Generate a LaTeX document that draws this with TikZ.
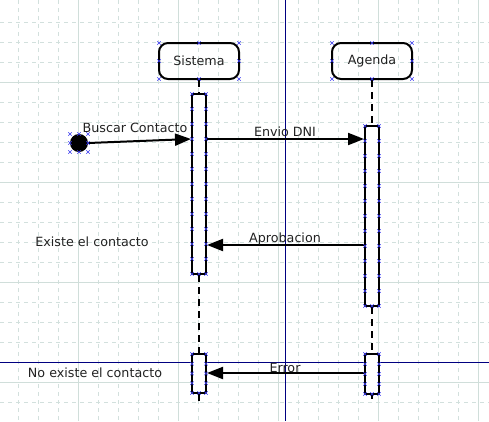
\documentclass[tikz,border=0pt]{standalone}
\usepackage{fontspec}
\setmainfont{DejaVu Sans}
\usetikzlibrary{arrows.meta}
\definecolor{gridminor}{HTML}{D2E0DD}
\definecolor{gridmajor}{HTML}{D0DEDA}
\definecolor{guide}{HTML}{000080}
\definecolor{handle}{HTML}{3A3AF0}
\definecolor{txt}{HTML}{222222}
\begin{document}
\begin{tikzpicture}[x=1pt,y=-1pt,
  lifebox/.style={draw, line width=2pt, rounded corners=9pt, minimum width=80pt, minimum height=36pt, inner sep=0pt, font=\fontsize{12.7}{14}\selectfont, text=txt},
  actbox/.style={draw, line width=2pt, fill=white, minimum width=14pt, inner sep=0pt},
  msg/.style={line width=2pt, -{Triangle[length=16pt,width=12pt]}},
  life/.style={line width=1.3pt, dash pattern=on 7pt off 5pt},
  lbl/.style={font=\fontsize{12.7}{14}\selectfont, text=txt, inner sep=0pt},
  hnd/.style={handle, line width=0.6pt},
  hx/.pic={\draw[hnd] (-1.7,-1.7) -- (1.7,1.7) (-1.7,1.7) -- (1.7,-1.7);}]
\useasboundingbox[fill=white] (0,0) rectangle (489,421);
% grid
\foreach \gx in {18,38,...,478} {\draw[gridminor, line width=1pt, dash pattern=on 4pt off 4pt] (\gx,0) -- (\gx,421);}
\foreach \gy in {22,42,...,402} {\draw[gridminor, line width=1pt, dash pattern=on 4pt off 4pt] (0,\gy) -- (489,\gy);}
\foreach \gx in {78,178,278,378,478} {\draw[gridmajor, line width=1pt] (\gx,0) -- (\gx,421);}
\foreach \gy in {82,182,282,382} {\draw[gridmajor, line width=1pt] (0,\gy) -- (489,\gy);}
% guides
\draw[guide, line width=1pt] (285,0) -- (285,421);
\draw[guide, line width=1pt] (0,362) -- (489,362);
% lifeline heads
\node[lifebox] (sis) at (199,61) {Sistema};
\node[lifebox] (age) at (372,61) {Agenda};
% activations
\node[actbox, minimum height=180pt] (sa1) at (199,184) {};
\node[actbox, minimum height=39pt] (sa2) at (199,373.5) {};
\node[actbox, minimum height=180pt] (aa1) at (372,216) {};
\node[actbox, minimum height=40pt] (aa2) at (372,374) {};
\coordinate (send) at (199,401);
\coordinate (aend) at (372,399);
% lifelines
\draw[life] (sis.south) -- (sa1.north);
\draw[life] (sa1.south) -- (sa2.north);
\draw[life] (sa2.south) -- (send);
\draw[life] (age.south) -- (aa1.north);
\draw[life] (aa1.south) -- (aa2.north);
\draw[life] (aa2.south) -- (aend);
% initial node
\node[circle, fill=black, minimum size=18pt, inner sep=0pt] (init) at (79,143) {};
% messages
\draw[msg] (init.east) -- ([yshift=-46pt]sa1.north west);
\draw[msg] ([yshift=-46pt]sa1.north east) -- ([yshift=-14pt]aa1.north west);
\draw[msg] ([yshift=-120pt]aa1.north west) -- ([yshift=-152pt]sa1.north east);
\draw[msg] ([yshift=-20pt]aa2.north west) -- ([yshift=-20pt]sa2.north east);
% labels
\node[lbl] (l1) at (135,128) {Buscar Contacto};
\node[lbl] (l2) at (285,132) {Envio DNI};
\node[lbl] (l3) at (285,239) {Aprobacion};
\node[lbl] (l4) at (285,368) {Error};
\node[lbl] (l5) at (92,242) {Existe el contacto};
\node[lbl] (l6) at (95,373) {No existe el contacto};
% handles
\foreach \hxx in {159,199,239} {\pic at (\hxx,43) {hx}; \pic at (\hxx,79) {hx};}
\pic at (159,61) {hx}; \pic at (239,61) {hx};
\foreach \hxx in {332,372,412} {\pic at (\hxx,43) {hx}; \pic at (\hxx,79) {hx};}
\pic at (332,61) {hx}; \pic at (412,61) {hx};
\foreach \hxx in {70,79,88} {\pic at (\hxx,134) {hx}; \pic at (\hxx,152) {hx};}
\pic at (70,143) {hx}; \pic at (88,143) {hx};
\foreach \k in {0,...,12} {
  \pic at (192,94+15*\k) {hx}; \pic at (206,94+15*\k) {hx};
  \pic at (365,126+15*\k) {hx}; \pic at (379,126+15*\k) {hx};}
\foreach \k in {0,...,4} {
  \pic at (192,354+9.75*\k) {hx}; \pic at (206,354+9.75*\k) {hx};
  \pic at (365,354+10*\k) {hx}; \pic at (379,354+10*\k) {hx};}
\pic at (199,274) {hx}; \pic at (372,306) {hx};
\pic at (199,393) {hx}; \pic at (372,394) {hx};
\end{tikzpicture}
\end{document}
